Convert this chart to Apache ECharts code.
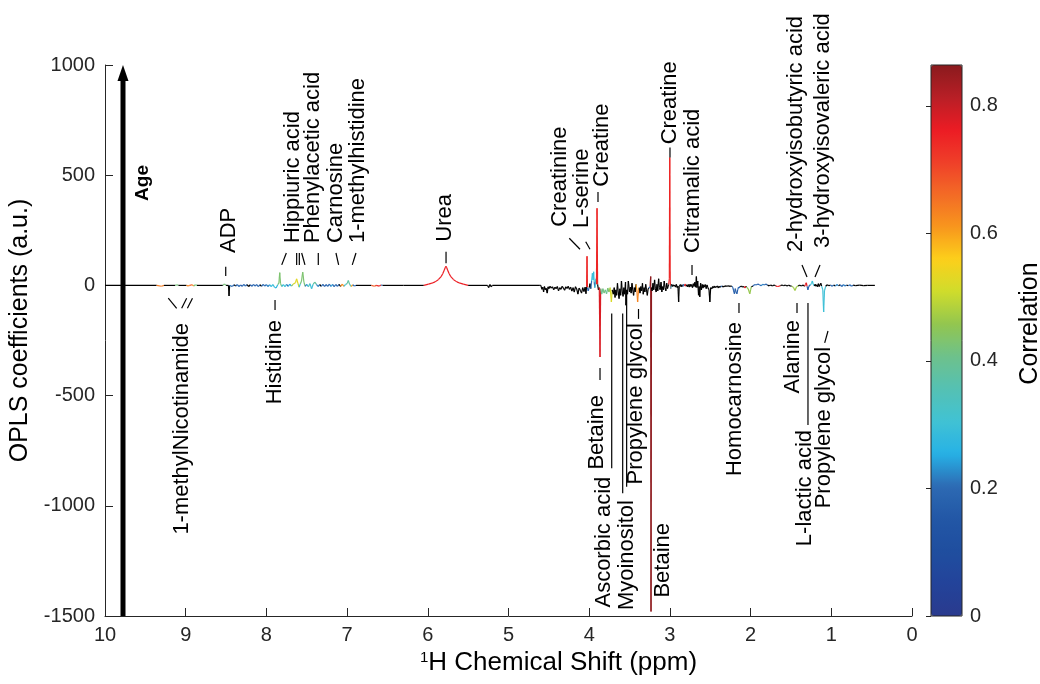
<!DOCTYPE html>
<html>
<head>
<meta charset="utf-8">
<script src="https://cdn.jsdelivr.net/npm/echarts@6/dist/echarts.min.js"></script>
<style>
  html, body { margin: 0; padding: 0; background: #ffffff; }
  #chart { width: 1040px; height: 684px; }
</style>
</head>
<body>
<div id="chart"></div>
<script>
const FONT = '"Liberation Sans", Arial, Helvetica, sans-serif';
const INK = '#262626';

// Axis ticks
const shiftTicks = [10, 9, 8, 7, 6, 5, 4, 3, 2, 1, 0];
const coefTicks = [-1500, -1000, -500, 0, 500, 1000];
const corrTicks = [0, 0.2, 0.4, 0.6, 0.8];

// Correlation colour scale, evenly spaced from 0 to CORR_MAX
const CORR_MAX = 0.864;
const corrColors = [
  '#2a3a8e', '#23439a', '#1f4e9f', '#2257a6', '#2d6ab3', '#27b1e6',
  '#40c2d4', '#55c1b3', '#6dc18c', '#92c64f', '#cfdc2c', '#fcd01b',
  '#f8961d', '#f36b26', '#ef3f29', '#ec1c24', '#b81f26', '#8a1a1d'
];

// Loadings: [chemical shift (ppm), OPLS coefficient, correlation | null when not significant]
const downfield = [
  [10.00, 0, null], [9.36, 0, null], [9.30, -4, 0.64], [9.27, 0, null],
  [9.13, 0, null], [9.11, 3, 0.42], [9.09, 0, null], [8.99, 0, null],
  [8.97, -3, 0.63], [8.95, 0, null], [8.92, 3, 0.68], [8.90, -3, 0.62],
  [8.88, 3, 0.42], [8.86, 0, null], [8.54, 0, null], [8.52, 6, 0.42],
  [8.50, 0, null], [8.47, 0, null], [8.463, -48, null], [8.456, 0, null],
  [8.44, -3, 0.22], [8.42, -4, 0.2], [8.40, 3, 0.22], [8.38, -3, null],
  [8.36, 4, 0.18], [8.34, -5, 0.2], [8.32, 2, null], [8.30, -4, 0.15],
  [8.28, 5, 0.2], [8.26, -3, 0.22], [8.24, 4, 0.18], [8.22, -5, null],
  [8.20, 3, 0.2], [8.18, -4, 0.17], [8.16, 5, 0.2], [8.14, -3, 0.25],
  [8.12, 4, 0.18], [8.10, -6, 0.2], [8.08, 3, 0.22], [8.06, -4, null],
  [8.04, 5, 0.2], [8.02, -3, 0.18], [8.00, 4, 0.2], [7.98, -5, 0.22],
  [7.96, 3, 0.25], [7.94, -6, 0.28], [7.92, 4, 0.2], [7.90, -8, 0.3],
  [7.88, -12, 0.27], [7.86, 3, 0.2], [7.845, 10, 0.42], [7.835, 58, 0.43],
  [7.825, 8, 0.42], [7.81, -5, 0.28], [7.79, 4, 0.2], [7.77, -6, 0.3],
  [7.75, 5, 0.2], [7.73, -4, 0.22], [7.71, 6, 0.25], [7.69, -3, 0.2],
  [7.67, 5, 0.45], [7.64, 12, 0.52], [7.625, 30, 0.53], [7.61, 10, 0.5],
  [7.595, -8, 0.3], [7.58, 6, 0.42], [7.565, 20, 0.42], [7.55, 60, 0.43],
  [7.535, 15, 0.42], [7.52, -4, 0.3], [7.50, 5, 0.2], [7.48, -6, 0.28],
  [7.46, 8, 0.35], [7.44, -15, 0.3], [7.42, 6, 0.4], [7.40, 15, 0.38],
  [7.38, 5, 0.2], [7.36, -5, 0.22], [7.34, 4, 0.2], [7.32, -4, null],
  [7.30, 5, 0.2], [7.28, -5, 0.18], [7.26, 4, 0.6], [7.24, -4, 0.2],
  [7.22, 6, 0.2], [7.20, -5, 0.22], [7.18, 5, 0.25], [7.16, -6, 0.2],
  [7.14, 4, 0.5], [7.12, -4, 0.2], [7.10, 5, 0.18], [7.08, -5, null],
  [7.06, 6, 0.62], [7.04, -4, 0.2], [7.02, 4, 0.3], [7.00, 8, 0.36],
  [6.985, 22, 0.38], [6.97, 6, 0.36], [6.95, -5, 0.6], [6.93, 3, 0.2],
  [6.91, -3, 0.2], [6.89, 0, null], [6.70, 0, null], [6.66, -4, 0.68],
  [6.64, 0, null], [6.60, -3, 0.75], [6.58, 2, 0.2], [6.56, 0, null]
];

const ureaBand = [
  [6.30, 0, null], [6.05, 0, null], [5.99, 6, 0.76], [5.95, 10, 0.76],
  [5.91, 16, 0.76], [5.87, 26, 0.76], [5.835, 40, 0.76], [5.815, 53, 0.76],
  [5.795, 70, 0.76], [5.785, 80, 0.76], [5.775, 87, 0.76], [5.765, 80, 0.76],
  [5.755, 70, 0.76], [5.735, 53, 0.76], [5.715, 40, 0.76], [5.68, 26, 0.76],
  [5.64, 16, 0.76], [5.60, 10, 0.76], [5.56, 6, 0.76], [5.50, 0, null],
  [5.26, 0, null], [5.245, -10, null], [5.23, 4, null], [5.215, -6, null],
  [5.20, 0, null], [4.62, 0, null]
];

const midfield = [
  [4.60, 0, null], [4.585, -18, null], [4.575, -8, null], [4.565, -30, null],
  [4.555, -5, null], [4.545, -20, null], [4.535, -12, null], [4.52, -35, null],
  [4.51, -6, null], [4.50, -15, null], [4.485, -4, 0.5], [4.47, -12, null],
  [4.455, -6, 0.3], [4.44, -20, null], [4.425, -8, null], [4.41, -15, null],
  [4.395, -5, null], [4.38, -25, null], [4.365, -10, null], [4.35, -18, null],
  [4.335, -4, null], [4.32, -12, null], [4.305, -22, null], [4.29, -6, null],
  [4.275, -14, null], [4.26, -4, null], [4.245, -18, null], [4.23, -8, null],
  [4.215, -26, null], [4.20, -10, null], [4.185, -30, null], [4.17, -6, null],
  [4.155, -16, null], [4.14, -40, null], [4.125, -12, null], [4.11, -22, null],
  [4.095, -35, null], [4.08, -10, null], [4.065, -28, null], [4.05, -8, null],
  [4.04, -38, null], [4.032, -5, null], [4.027, 132, 0.75], [4.022, -10, null],
  [4.012, -25, 0.2], [4.00, -10, null], [3.99, 8, 0.28], [3.98, -15, null],
  [3.97, 20, 0.2], [3.96, 55, 0.29], [3.952, 25, 0.18], [3.945, 62, 0.29],
  [3.938, 15, 0.2], [3.93, -10, null], [3.915, 30, 0.3], [3.91, 5, null],
  [3.903, 350, 0.75], [3.896, 5, null], [3.885, -20, null], [3.875, -10, null],
  [3.866, -325, 0.78], [3.858, -15, null], [3.845, -40, 0.4], [3.83, -15, 0.38],
  [3.815, -35, 0.42], [3.80, -20, null], [3.785, -38, 0.4], [3.77, -12, 0.36],
  [3.755, -30, 0.44], [3.74, -10, null], [3.725, -75, 0.52], [3.715, -20, 0.5],
  [3.70, -40, null], [3.69, -10, null], [3.68, -55, null], [3.67, -20, null],
  [3.66, -45, null], [3.65, 10, null], [3.64, -30, null], [3.63, -60, null],
  [3.62, -15, null], [3.61, -45, null], [3.60, 20, null], [3.59, -30, null],
  [3.58, -50, null], [3.57, -10, null], [3.56, -40, null], [3.55, 15, null],
  [3.545, -90, null], [3.535, -20, null], [3.525, -40, null], [3.515, 20, null],
  [3.50, -30, null], [3.49, -8, null], [3.48, -35, null], [3.47, 10, null],
  [3.46, -20, null], [3.45, -45, null], [3.44, -10, null], [3.43, -30, null],
  [3.42, 5, null], [3.41, -20, 0.6], [3.40, -75, 0.63], [3.39, -25, 0.62],
  [3.38, -10, null], [3.37, -35, null], [3.36, -5, null], [3.35, -25, null],
  [3.34, 10, null], [3.33, -40, null], [3.32, -10, null], [3.31, -30, null],
  [3.30, 5, null], [3.29, -20, null], [3.28, -45, null], [3.27, -15, null],
  [3.26, -12, 0.2], [3.245, -5, null], [3.238, 40, 0.86], [3.234, -1480, 0.86],
  [3.228, -10, null], [3.22, -25, null], [3.21, 10, null], [3.20, -20, null],
  [3.19, 25, null], [3.18, -15, null], [3.17, -30, null], [3.16, 5, null],
  [3.15, -25, null], [3.14, 30, null], [3.13, -10, null], [3.12, -20, null],
  [3.11, 15, null], [3.10, -30, null], [3.09, -5, null], [3.08, -20, null],
  [3.07, 20, null], [3.06, -10, null], [3.05, -25, null], [3.04, 10, null],
  [3.03, -15, null], [3.015, 5, null], [3.007, 30, 0.75], [3.002, 580, 0.75],
  [2.996, 20, 0.75], [2.99, -15, 0.3], [2.98, 5, null], [2.97, -5, null],
  [2.96, 3, 0.6], [2.95, -4, null], [2.94, 2, null], [2.93, -8, null],
  [2.92, 5, null], [2.91, -10, null], [2.90, -3, null], [2.892, -75, null],
  [2.885, -5, null], [2.87, 4, null], [2.86, -6, null], [2.85, 3, null],
  [2.84, -5, null], [2.83, 5, 0.2], [2.82, -3, null], [2.81, 6, 0.75],
  [2.80, -4, null], [2.79, 3, 0.5], [2.78, -6, null], [2.77, 4, null],
  [2.76, -8, null], [2.75, 6, null], [2.74, -5, null], [2.73, 4, null],
  [2.72, -10, null], [2.71, 8, null], [2.70, -5, null], [2.69, 15, null],
  [2.68, -8, null], [2.672, 40, null], [2.665, -10, null], [2.655, 20, null],
  [2.645, -45, null], [2.638, -5, null], [2.63, -52, null], [2.62, 10, null],
  [2.61, -20, null], [2.60, 5, null], [2.59, -12, null], [2.58, 3, null],
  [2.57, -8, null], [2.56, 4, null], [2.55, -15, null], [2.54, 2, null],
  [2.53, -10, null], [2.515, -20, null], [2.505, -75, null], [2.495, -10, null],
  [2.48, -15, null], [2.47, -5, null], [2.46, -12, null], [2.45, -3, null],
  [2.44, -10, null], [2.43, -5, null], [2.42, -8, null], [2.41, -2, null],
  [2.40, -12, null], [2.39, -4, null], [2.38, -9, null], [2.37, -3, null],
  [2.36, -6, 0.2], [2.35, -2, null], [2.34, -8, null], [2.33, -3, null],
  [2.32, -6, null], [2.31, -1, 0.2], [2.30, -5, null], [2.29, -2, null],
  [2.28, -4, null], [2.27, -1, null], [2.26, -6, null], [2.25, -2, null],
  [2.24, -4, null]
];

const upfield = [
  [2.23, -4, null], [2.22, -10, 0.2], [2.21, -25, 0.18], [2.20, -38, 0.17],
  [2.19, -15, 0.2], [2.18, -30, 0.18], [2.17, -38, 0.17], [2.16, -20, 0.2],
  [2.15, -8, null], [2.14, -12, 0.18], [2.13, -4, null], [2.12, -6, null],
  [2.11, -3, null], [2.10, -8, null], [2.08, -5, null], [2.07, -12, 0.76],
  [2.06, -4, null], [2.05, -8, null], [2.03, -15, 0.45], [2.01, -38, 0.46],
  [2.00, -20, 0.45], [1.99, -6, null], [1.97, -3, null], [1.95, 4, 0.2],
  [1.93, 2, null], [1.91, 6, 0.18], [1.89, 3, 0.2], [1.87, -2, null],
  [1.85, 5, 0.22], [1.83, 2, 0.2], [1.81, 6, 0.18], [1.79, 1, null],
  [1.77, -2, null], [1.75, 2, null], [1.73, -3, null], [1.71, 2, null],
  [1.69, -2, null], [1.67, -5, 0.76], [1.65, -4, 0.75], [1.63, -1, null],
  [1.61, 2, null], [1.59, -2, null], [1.57, 2, null], [1.55, -3, null],
  [1.53, 1, null], [1.51, -2, null], [1.49, -4, null], [1.47, -8, 0.46],
  [1.45, -23, 0.47], [1.43, -6, 0.46], [1.41, -2, null], [1.39, 1, null],
  [1.37, -3, null], [1.35, 2, null], [1.33, -4, null], [1.32, 4, 0.76],
  [1.31, 12, 0.77], [1.30, -4, 0.2], [1.29, -20, 0.18], [1.28, -5, 0.2],
  [1.26, 3, null], [1.245, 8, 0.3], [1.235, 20, 0.3], [1.225, 6, 0.3],
  [1.21, -3, null], [1.20, 5, null], [1.19, -4, null], [1.18, 3, null],
  [1.17, -6, null], [1.16, 8, null], [1.15, -5, null], [1.13, 10, null],
  [1.12, -3, null], [1.105, -20, 0.3], [1.095, -121, 0.3], [1.085, -25, 0.3],
  [1.07, -4, null], [1.05, 3, null], [1.03, -2, null], [1.01, 2, null],
  [0.99, -4, 0.2], [0.97, 2, 0.2], [0.95, -3, null], [0.93, 4, 0.22],
  [0.91, -2, null], [0.89, 3, null], [0.87, -5, 0.2], [0.85, 4, 0.22],
  [0.83, -3, 0.2], [0.81, 2, null], [0.79, -2, null], [0.77, 3, 0.2],
  [0.75, -4, 0.2], [0.73, 1, null], [0.70, -1, null], [0.65, 1, null],
  [0.60, -1, null], [0.55, 0, null], [0.46, 0, null]
];

// Metabolite annotations: [text, ppm, coefficient at the end nearest the baseline]
const labelsAbove = [
  ['ADP', 8.463, 147],
  ['Hippiuric acid', 7.670, 192],
  ['Phenylacetic acid', 7.423, 192],
  ['Carnosine', 7.138, 192],
  ['1-methylhistidine', 6.865, 192],
  ['Urea', 5.793, 198],
  ['Creatinine', 4.368, 266],
  ['L-serine', 4.095, 260],
  ['Creatine', 3.848, 448],
  ['Creatine', 3.005, 640],
  ['Citramalic acid', 2.720, 147],
  ['2-hydroxyisobutyric acid', 1.444, 152],
  ['3-hydroxyisovaleric acid', 1.109, 170]
];
const labelsBelow = [
  ['1-methylNicotinamide', 9.046, -171],
  ['Histidine', 7.893, -157],
  ['Betaine', 3.907, -497],
  ['Ascorbic acid', 3.817, -868],
  ['Myoinositol', 3.532, -974],
  ['Propylene glycol', 3.420, -171],
  ['Betaine', 3.092, -1078],
  ['Homocarnosine', 2.193, -166],
  ['Alanine', 1.481, -157],
  ['L-lactic acid', 1.326, -656],
  ['Propylene glycol', 1.090, -279]
];

// Leader strokes joining labels to peaks: [ppm1, coef1, ppm2, coef2]
const leaders = [
  [8.504, 85, 8.504, 43],
  [7.810, 93, 7.753, 147], [7.625, 93, 7.625, 147], [7.592, 93, 7.592, 147],
  [7.563, 147, 7.522, 93], [7.357, 93, 7.357, 147], [7.138, 147, 7.105, 93],
  [6.936, 93, 6.890, 147],
  [5.774, 153, 5.774, 100],
  [4.247, 214, 4.114, 164], [4.043, 198, 3.990, 164],
  [3.891, 424, 3.891, 378], [2.999, 626, 2.999, 580],
  [2.726, 93, 2.726, 47],
  [1.363, 93, 1.301, 38], [1.202, 38, 1.140, 93],
  [9.216, -58, 9.112, -104], [9.050, -104, 8.988, -58], [8.979, -104, 8.916, -58],
  [7.893, -66, 7.893, -112],
  [3.866, -375, 3.866, -429],
  [3.721, -127, 3.721, -830],
  [3.585, -127, 3.585, -943],
  [3.536, -21, 3.536, -913],
  [3.389, -107, 3.389, -152],
  [2.144, -80, 2.144, -125],
  [1.425, -80, 1.425, -125],
  [1.289, -80, 1.289, -633],
  [1.082, -261, 1.041, -207]
];

// Direction of the response variable
const ageArrow = [[9.777, -1500, 1000]];

const spectrum = [].concat(downfield, ureaBand, midfield, upfield)
  // non-significant variables carry a negative flag and are drawn black
  .map(p => [p[0], p[1], p[2] == null ? -1 : p[2]]);

const labels = labelsAbove.map(l => [l[0], l[1], l[2], 1])
  .concat(labelsBelow.map(l => [l[0], l[1], l[2], -1]));

const chart = echarts.init(document.getElementById('chart'), null, { renderer: 'canvas' });

function segmentColor(api, idx) {
  return api.value(2, idx) < 0 ? '#000000' : api.visual('color', idx);
}

const option = {
  animation: false,
  backgroundColor: '#ffffff',
  textStyle: { fontFamily: FONT },
  grid: [
    { left: 105, top: 65, width: 807, height: 551, containLabel: false, outerBoundsMode: 'none' },
    { left: 931, top: 65, width: 31, height: 551, show: true, z: 10, outerBoundsMode: 'none',
      borderColor: INK, borderWidth: 1, backgroundColor: 'transparent' }
  ],
  xAxis: [
    {
      gridIndex: 0, type: 'value', min: 0, max: 10, interval: 1, inverse: true,
      name: '{sup|1}H Chemical Shift (ppm)', nameLocation: 'middle', nameGap: 33,
      nameTextStyle: {
        fontSize: 26, color: '#000', fontFamily: FONT, padding: [0, 0, 0, 100],
        rich: { sup: { fontSize: 15, verticalAlign: 'top', color: '#000', fontFamily: FONT } }
      },
      axisLine: { onZero: false, lineStyle: { color: INK, width: 1 } },
      axisTick: { inside: true, length: 8, lineStyle: { color: INK } },
      axisLabel: { fontSize: 20, color: INK, margin: 9, fontFamily: FONT,
        customValues: shiftTicks, formatter: v => String(v) },
      splitLine: { show: false }
    },
    { gridIndex: 1, type: 'value', min: 0, max: 1, show: false }
  ],
  yAxis: [
    {
      gridIndex: 0, type: 'value', min: -1500, max: 1000, interval: 500,
      name: 'OPLS coefficients (a.u.)', nameLocation: 'middle', nameGap: 58,
      nameTextStyle: { fontSize: 25, color: '#000', fontFamily: FONT, padding: [0, 0, 0, 20] },
      axisLine: { onZero: false, lineStyle: { color: INK, width: 1 } },
      axisTick: { inside: true, length: 8, lineStyle: { color: INK } },
      axisLabel: { fontSize: 20, color: INK, margin: 10, fontFamily: FONT,
        customValues: coefTicks, formatter: v => String(v) },
      splitLine: { show: false }
    },
    {
      gridIndex: 1, type: 'value', min: 0, max: CORR_MAX, position: 'right', z: 10,
      name: 'Correlation', nameLocation: 'middle', nameGap: 56, nameRotate: 90,
      nameTextStyle: { fontSize: 25, color: '#000', fontFamily: FONT, padding: [0, 0, 0, 34] },
      axisLine: { show: false },
      axisTick: { inside: true, length: 5, lineStyle: { color: INK }, customValues: corrTicks },
      axisLabel: { fontSize: 20, color: INK, margin: 8, fontFamily: FONT,
        customValues: corrTicks, formatter: v => (v === 0 ? '0' : v.toFixed(1)) },
      splitLine: { show: false }
    }
  ],
  visualMap: {
    type: 'continuous', seriesIndex: 0, dimension: 2,
    min: 0, max: CORR_MAX, calculable: false, hoverLink: false,
    orient: 'vertical', left: 931, top: 65, itemWidth: 31, itemHeight: 551,
    padding: 0, text: null, showLabel: false,
    inRange: { color: corrColors }
  },
  series: [
    {
      // spectrum drawn as connected segments, each coloured by its larger end
      type: 'custom', xAxisIndex: 0, yAxisIndex: 0, silent: true,
      dimensions: ['ppm', 'coef', 'corr'],
      encode: { x: 0, y: 1 },
      data: spectrum,
      renderItem: function (params, api) {
        const i = params.dataIndexInside;
        if (i === 0) return null;
        const a = api.coord([api.value(0, i - 1), api.value(1, i - 1)]);
        const b = api.coord([api.value(0, i), api.value(1, i)]);
        const useCurrent = Math.abs(api.value(1, i)) >= Math.abs(api.value(1, i - 1));
        const color = segmentColor(api, useCurrent ? i : i - 1);
        return {
          type: 'line',
          shape: { x1: a[0], y1: a[1], x2: b[0], y2: b[1] },
          style: { stroke: color, lineWidth: 1.2 }
        };
      }
    },
    {
      type: 'custom', xAxisIndex: 0, yAxisIndex: 0, silent: true, clip: false,
      data: leaders,
      renderItem: function (params, api) {
        const a = api.coord([api.value(0), api.value(1)]);
        const b = api.coord([api.value(2), api.value(3)]);
        return {
          type: 'line',
          shape: { x1: a[0], y1: a[1], x2: b[0], y2: b[1] },
          style: { stroke: '#000', lineWidth: 1.2 }
        };
      }
    },
    {
      type: 'custom', xAxisIndex: 0, yAxisIndex: 0, silent: true, clip: false,
      data: labels.map(l => [l[1], l[2]]),
      renderItem: function (params, api) {
        const lab = labels[params.dataIndex];
        const p = api.coord([api.value(0), api.value(1)]);
        return {
          type: 'text', x: p[0], y: p[1], rotation: Math.PI / 2,
          style: {
            text: lab[0], fill: '#000', fontSize: 22, fontFamily: FONT,
            align: lab[3] > 0 ? 'left' : 'right', verticalAlign: 'middle'
          }
        };
      }
    },
    {
      type: 'custom', xAxisIndex: 0, yAxisIndex: 0, silent: true, clip: false,
      data: ageArrow,
      renderItem: function (params, api) {
        const base = api.coord([api.value(0), api.value(1)]);
        const tip = api.coord([api.value(0), api.value(2)]);
        const head = 16, half = 5.5;
        return {
          type: 'group',
          children: [
            { type: 'line',
              shape: { x1: base[0], y1: base[1], x2: tip[0], y2: tip[1] + head - 2 },
              style: { stroke: '#000', lineWidth: 5 } },
            { type: 'polygon',
              shape: { points: [[tip[0], tip[1]], [tip[0] - half, tip[1] + head], [tip[0] + half, tip[1] + head]] },
              style: { fill: '#000' } },
            { type: 'text', x: tip[0] + 20, y: tip[1] + 118, rotation: Math.PI / 2,
              style: { text: 'Age', fill: '#000', fontSize: 19, fontWeight: 'bold',
                fontFamily: FONT, align: 'center', verticalAlign: 'middle' } }
          ]
        };
      }
    }
  ]
};

chart.setOption(option);
</script>
</body>
</html>
